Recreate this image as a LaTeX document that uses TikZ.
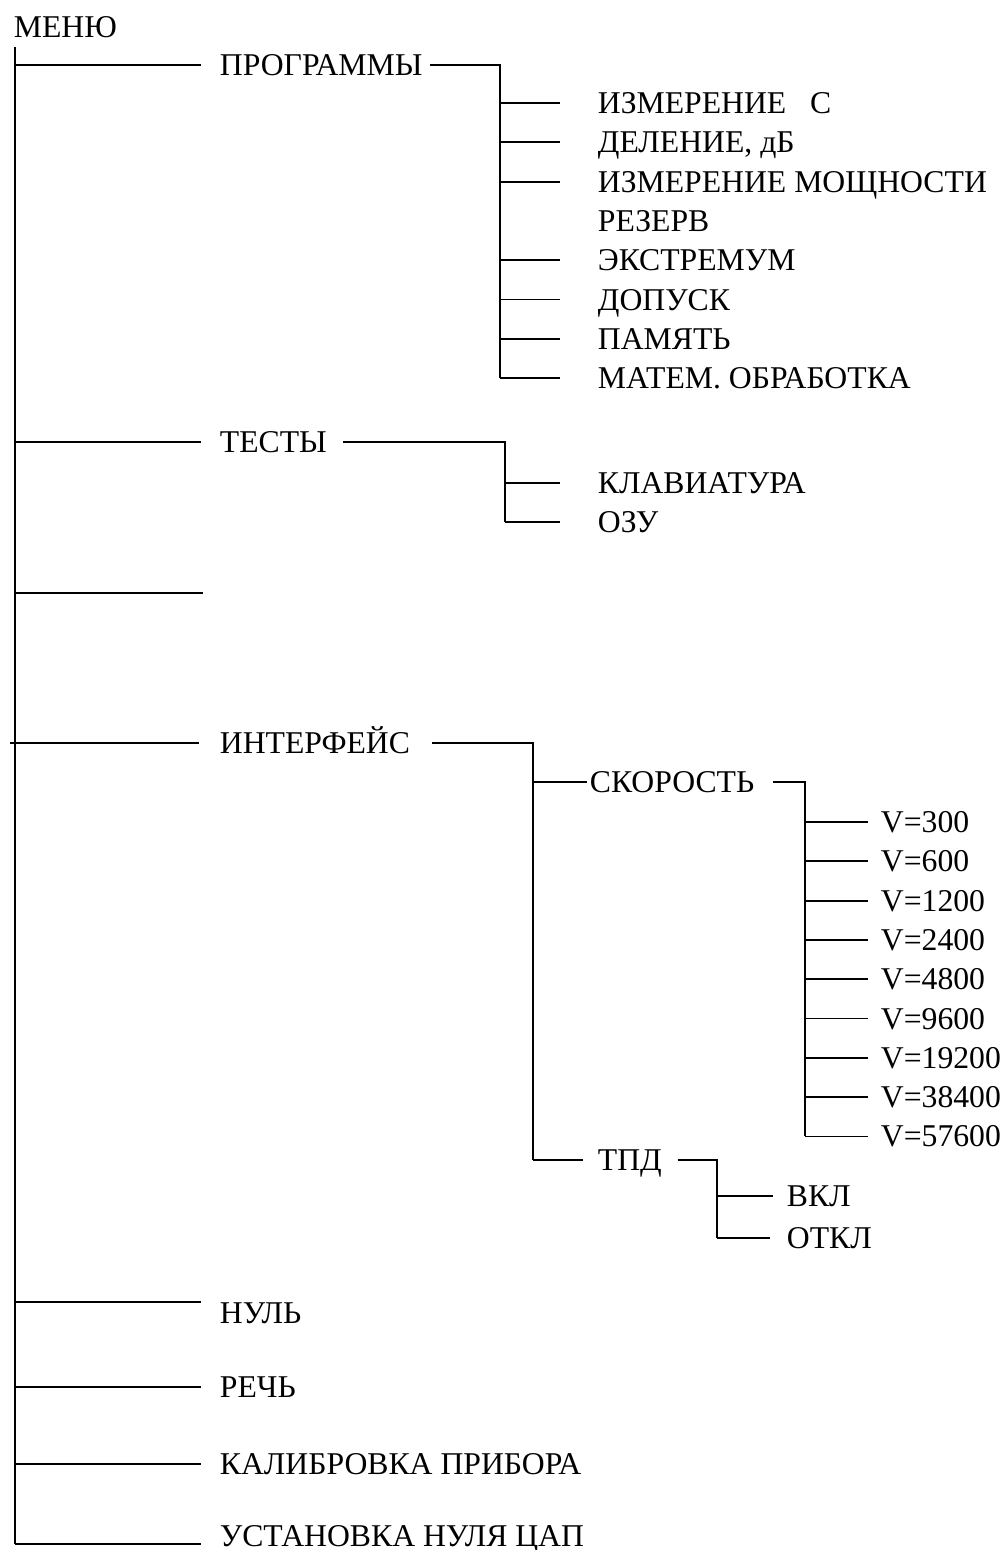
\documentclass[tikz,border=0pt]{standalone}
\usepackage{fontspec}
\setmainfont{Liberation Serif}
\usetikzlibrary{positioning}

\tikzset{
  item/.style={anchor=west, inner sep=0pt, text height=21pt, text depth=0pt, font=\fontsize{31.7}{38}\selectfont},
  listbelow/.style={below=of #1.south west, anchor=north west},
}

\begin{document}
\begin{tikzpicture}[x=1pt, y=-1pt, node distance=16.5pt, line width=1.8pt]
\useasboundingbox (0,0) rectangle (1004,1550);

% root
\node[item] (menu) at (13,27) {МЕНЮ};
\coordinate (top) at (15,47);
\coordinate (bot) at (15,1544);
\draw (top) -- (bot);

% first level
\node[item] (prog) at (219,65) {ПРОГРАММЫ};
\node[item] (tests) at (219,442) {ТЕСТЫ};
\coordinate (spare) at (203,593);
\node[item] (iface) at (219,743) {ИНТЕРФЕЙС};
\node[item] (nul) at (219,1313) {НУЛЬ};
\node[item] (speech) at (219,1387) {РЕЧЬ};
\node[item] (calib) at (219,1464) {КАЛИБРОВКА ПРИБОРА};
\node[item] (dac) at (219,1536) {УСТАНОВКА НУЛЯ ЦАП};
\draw[shorten >=18pt] (top |- prog) -- (prog);
\draw[shorten >=18pt] (top |- tests) -- (tests);
\draw (top |- spare) -- (spare);
\draw[shorten >=20pt] (top |- iface) ++(-5,0) -- (iface);
\draw[shorten >=18pt] (top |- nul.north) -- (nul.north west);
\draw[shorten >=18pt] (top |- speech) -- (speech);
\draw[shorten >=18pt] (top |- calib) -- (calib);
\draw[shorten >=18pt] (bot) -- (bot -| dac.west);

% programs
\coordinate (pj) at (500,65);
\node[item] (izm) at (597,103) {ИЗМЕРЕНИЕ\ \ \ С};
\node[item, listbelow=izm] (div) {ДЕЛЕНИЕ, дБ};
\node[item, listbelow=div] (power) {ИЗМЕРЕНИЕ МОЩНОСТИ};
\node[item, listbelow=power] (reserve) {РЕЗЕРВ};
\node[item, listbelow=reserve] (extr) {ЭКСТРЕМУМ};
\node[item, listbelow=extr] (tol) {ДОПУСК};
\node[item, listbelow=tol] (mem) {ПАМЯТЬ};
\node[item, listbelow=mem] (calc) {МАТЕМ. ОБРАБОТКА};
\draw[shorten <=7pt] (prog) -- (pj) -- (pj |- calc);
\draw[shorten >=37pt] (pj |- izm) -- (izm);
\draw[shorten >=37pt] (pj |- div) -- (div);
\draw[shorten >=37pt] (pj |- power) -- (power);
\draw[shorten >=37pt] (pj |- extr) -- (extr);
\draw[shorten >=37pt] (pj |- tol) -- (tol);
\draw[shorten >=37pt] (pj |- mem) -- (mem);
\draw[shorten >=37pt] (pj |- calc) -- (calc);

% tests
\coordinate (tj) at (505,442);
\node[item] (kbd) at (597,483) {КЛАВИАТУРА};
\node[item, listbelow=kbd] (ram) {ОЗУ};
\draw[shorten <=15pt] (tests) -- (tj) -- (tj |- ram);
\draw[shorten >=37pt] (tj |- kbd) -- (kbd);
\draw[shorten >=37pt] (tj |- ram) -- (ram);

% interface
\coordinate (ij) at (533,743);
\node[item] (speed) at (589,782) {СКОРОСТЬ};
\node[item] (tpd) at (597,1160) {ТПД};
\draw[shorten <=21pt] (iface) -- (ij) -- (ij |- tpd);
\draw[shorten >=2pt] (ij |- speed) -- (speed);
\draw[shorten >=14pt] (ij |- tpd) -- (tpd);

% baud rates
\coordinate (sj) at (805,782);
\node[item] (v1) at (880,822) {V=300};
\node[item, listbelow=v1] (v2) {V=600};
\node[item, listbelow=v2] (v3) {V=1200};
\node[item, listbelow=v3] (v4) {V=2400};
\node[item, listbelow=v4] (v5) {V=4800};
\node[item, listbelow=v5] (v6) {V=9600};
\node[item, listbelow=v6] (v7) {V=19200};
\node[item, listbelow=v7] (v8) {V=38400};
\node[item, listbelow=v8] (v9) {V=57600};
\draw[shorten <=18pt] (speed) -- (sj) -- (sj |- v9);
\draw[shorten >=12pt] (sj |- v1) -- (v1);
\draw[shorten >=12pt] (sj |- v2) -- (v2);
\draw[shorten >=12pt] (sj |- v3) -- (v3);
\draw[shorten >=12pt] (sj |- v4) -- (v4);
\draw[shorten >=12pt] (sj |- v5) -- (v5);
\draw[shorten >=12pt] (sj |- v6) -- (v6);
\draw[shorten >=12pt] (sj |- v7) -- (v7);
\draw[shorten >=12pt] (sj |- v8) -- (v8);
\draw[shorten >=12pt] (sj |- v9) -- (v9);

% tpd
\coordinate (dj) at (717,1160);
\node[item] (on) at (786,1196) {ВКЛ};
\node[item] (off) at (786,1238) {ОТКЛ};
\draw[shorten <=15pt] (tpd) -- (dj) -- (dj |- off);
\draw[shorten >=13pt] (dj |- on) -- (on);
\draw[shorten >=16pt] (dj |- off) -- (off);
\end{tikzpicture}
\end{document}
